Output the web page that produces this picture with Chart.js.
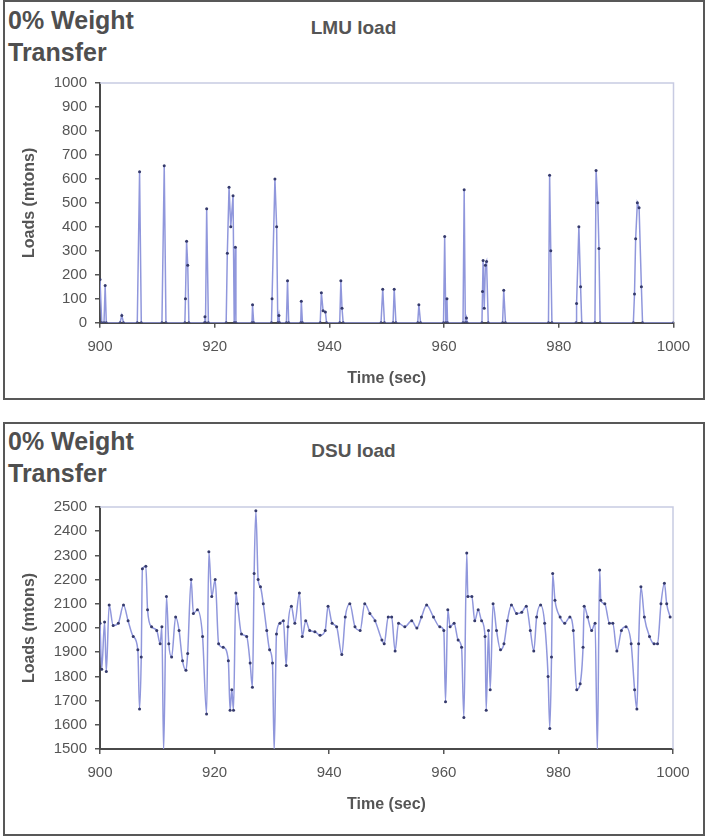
<!DOCTYPE html>
<html>
<head>
<meta charset="utf-8">
<script src="https://cdn.jsdelivr.net/npm/chart.js@4.4.1/dist/chart.umd.min.js"></script>
<style>
  body { margin: 0; width: 707px; height: 836px; background: #fff; position: relative; overflow: hidden; font-family: "Liberation Sans", Arial, sans-serif; }
  .panel { position: absolute; box-sizing: border-box; border: 2px solid #585858; background: #fff; }
  .note { position: absolute; font-weight: bold; font-size: 25px; line-height: 32px; color: #4f4f4f; }
  .ttl { position: absolute; font-weight: bold; font-size: 19px; color: #555; width: 707px; text-align: center; left: 0; }
  canvas { position: absolute; left: 0; }
</style>
</head>
<body>
<div class="panel" style="left:3px; top:0px; width:702px; height:400px;"></div>
<div class="panel" style="left:3px; top:422px; width:702px; height:414px;"></div>

<div class="note" style="left:8px; top:4px;">0% Weight<br>Transfer</div>
<div class="ttl" style="top:17px;">LMU load</div>
<div class="note" style="left:8px; top:425px;">0% Weight<br>Transfer</div>
<div class="ttl" style="top:440px;">DSU load</div>

<canvas id="lmuChart" width="707" height="400" style="top:0;"></canvas>
<canvas id="dsuChart" width="707" height="416" style="top:420px;"></canvas>

<script>
// LMU load, time (sec) and load (mtons)
const lmuTime = [900.0, 900.3, 900.7, 900.9, 901.1, 903.5, 903.8, 904.1, 906.5, 906.9, 907.2, 910.8, 911.2, 911.5,
  914.8, 914.9, 915.1, 915.3, 915.5, 918.2, 918.3, 918.4, 918.6, 918.9, 922.0, 922.2, 922.5, 922.8, 923.2, 923.4,
  923.6, 923.7, 926.5, 926.6, 926.8, 929.9, 930.0, 930.5, 930.8, 931.0, 931.2, 931.3, 932.5, 932.7, 932.9,
  935.0, 935.1, 935.3, 938.4, 938.6, 938.9, 939.3, 939.5, 941.8, 942.0, 942.2, 942.4, 949.0, 949.3, 949.6,
  951.1, 951.3, 951.6, 955.4, 955.6, 955.9, 959.9, 960.1, 960.3, 960.5, 960.6, 963.3, 963.5, 963.7, 963.9, 964.0,
  966.6, 966.7, 966.8, 967.0, 967.2, 967.4, 967.7, 970.2, 970.4, 970.7, 978.2, 978.4, 978.6, 978.8,
  983.0, 983.1, 983.5, 983.8, 984.0, 986.3, 986.5, 986.8, 987.0, 987.2,
  993.0, 993.2, 993.4, 993.7, 994.0, 994.4, 994.6, 1000.0];
const lmuLoad = [180, 0, 0, 155, 0, 0, 30, 0, 0, 630, 0, 0, 655, 0,
  0, 100, 340, 240, 0, 0, 25, 0, 475, 0, 0, 290, 565, 400, 530, 0,
  315, 0, 0, 75, 0, 0, 100, 600, 400, 0, 30, 0, 0, 175, 0,
  0, 90, 0, 0, 125, 50, 45, 0, 0, 175, 60, 0, 0, 140, 0,
  0, 140, 0, 0, 75, 0, 0, 360, 0, 100, 0, 0, 555, 0, 20, 0,
  0, 130, 260, 60, 240, 255, 0, 0, 135, 0, 0, 615, 300, 0,
  0, 80, 400, 150, 0, 0, 635, 500, 310, 0,
  0, 120, 350, 500, 480, 150, 0, 0];

// DSU load, time (sec) and load (mtons)
const dsuTime = [900.0, 900.3, 900.8, 901.1, 901.6, 902.3, 903.2, 904.1, 904.9, 905.8, 906.6, 906.9, 907.2, 907.4,
  908.0, 908.3, 909.0, 909.9, 910.5, 910.8, 911.1, 911.6, 912.0, 912.5, 913.2, 913.8, 914.4, 915.0, 915.3,
  915.9, 916.3, 917.0, 917.9, 918.6, 919.0, 919.5, 920.1, 920.7, 921.5, 922.4, 922.7, 923.0, 923.3, 923.7,
  924.0, 924.7, 925.6, 926.2, 926.6, 926.9, 927.2, 927.6, 928.0, 928.5, 929.1, 929.6, 930.1, 930.4, 930.8,
  931.4, 932.0, 932.5, 932.8, 933.4, 934.0, 934.8, 935.3, 935.9, 936.6, 937.5, 938.4, 939.3, 939.8, 940.5,
  941.3, 942.2, 942.8, 943.6, 944.5, 945.4, 946.2, 947.1, 948.0, 949.2, 949.6, 950.3, 950.9, 951.5, 952.1,
  953.2, 954.4, 955.3, 956.1, 957.0, 958.2, 959.3, 960.0, 960.3, 960.7, 961.1, 961.8, 962.5, 963.1, 963.5,
  964.0, 964.2, 964.9, 965.4, 966.0, 966.6, 967.2, 967.4, 967.8, 968.1, 968.6, 969.2, 969.9, 970.5, 971.1,
  971.8, 972.7, 973.6, 974.4, 975.1, 975.7, 976.2, 976.9, 977.6, 978.2, 978.5, 978.8, 979.0, 979.4, 980.3,
  981.1, 982.0, 982.6, 983.2, 983.8, 984.3, 984.5, 985.1, 985.8, 986.4, 986.8, 987.2, 987.4, 988.1, 988.9,
  989.5, 990.2, 991.0, 991.8, 992.7, 993.3, 993.7, 994.0, 994.4, 995.0, 995.9, 996.7, 997.3, 997.9, 998.5,
  998.9, 999.5];
const dsuLoad = [2020, 1830, 2025, 1820, 2095, 2010, 2020, 2095, 2030, 1965, 1910, 1665, 1880, 2245,
  2255, 2075, 2005, 1990, 1935, 2005, 1490, 2130, 1935, 1880, 2045, 1990, 1865, 1825, 1895,
  2200, 2060, 2075, 1965, 1645, 2315, 2130, 2200, 1935, 1920, 1865, 1660, 1745, 1660, 2145,
  2100, 1975, 1965, 1855, 1755, 2225, 2485, 2200, 2170, 2100, 1990, 1910, 1855, 1490, 1975,
  2020, 2030, 1845, 2005, 2090, 2020, 2145, 1965, 2030, 1990, 1985, 1970, 1990, 2090, 2020,
  2005, 1890, 2045, 2100, 2005, 1990, 2100, 2060, 2030, 1950, 1935, 2045, 2045, 1905, 2020,
  2005, 2030, 2000, 2045, 2095, 2045, 2005, 1990, 1695, 2075, 2005, 2020, 1950, 1920, 1630,
  2310, 2130, 2130, 2030, 2075, 2030, 1965, 1660, 1990, 1745, 2100, 1990, 1910, 1935, 2030,
  2095, 2060, 2065, 2090, 1990, 1905, 2045, 2095, 2020, 1800, 1585, 1880, 2225, 2115, 2045,
  2020, 2045, 1990, 1745, 1770, 1920, 2090, 2045, 1990, 2020, 1490, 2240, 2115, 2100, 2020,
  2020, 1905, 1990, 2005, 1935, 1745, 1665, 1935, 2170, 2045, 1965, 1935, 1935, 2100, 2185,
  2100, 2045];

const xTicks = [900, 920, 940, 960, 980, 1000];

const tickFont = { family: 'Liberation Sans', size: 15 };
const titleFont = { family: 'Liberation Sans', size: 16, weight: 'bold' };
const axisGray = '#555';

// light frame on the top and right sides of the plot area
const plotFrame = {
  id: 'plotFrame',
  beforeDatasetsDraw(chart) {
    const { ctx, chartArea: a } = chart;
    ctx.save();
    ctx.strokeStyle = '#c8cbe2';
    ctx.lineWidth = 1.5;
    ctx.beginPath();
    ctx.moveTo(a.left, a.top);
    ctx.lineTo(a.right, a.top);
    ctx.lineTo(a.right, a.bottom);
    ctx.stroke();
    ctx.restore();
  }
};

function makeChart(id, times, loads, yMin, yMax, pad, xHeight, smooth) {
  return new Chart(document.getElementById(id), {
    type: 'line',
    data: {
      datasets: [{
        data: times.map((t, i) => ({ x: t, y: loads[i] })),
        borderColor: '#9097dc',
        borderWidth: 1.5,
        pointRadius: 1.5,
        pointBorderWidth: 0,
        pointBackgroundColor: '#353a6c',
        cubicInterpolationMode: smooth ? 'monotone' : 'default',
        tension: 0
      }]
    },
    options: {
      responsive: false,
      animation: false,
      layout: { padding: pad },
      plugins: { legend: { display: false }, tooltip: { enabled: false } },
      scales: {
        x: {
          type: 'linear',
          min: 900,
          max: 1000,
          afterBuildTicks: s => { s.ticks = xTicks.map(v => ({ value: v })); },
          afterFit: s => { s.height = xHeight; },
          ticks: { font: tickFont, color: axisGray, padding: 10, maxRotation: 0, callback: v => String(v) },
          grid: { drawOnChartArea: false, color: axisGray, tickLength: 5, lineWidth: 1.5 },
          border: { color: '#4a4a4a', width: 2 },
          title: { display: true, text: 'Time (sec)', font: titleFont, color: axisGray, padding: { top: 0, bottom: 4 } }
        },
        y: {
          min: yMin,
          max: yMax,
          afterFit: s => { s.width = 86; },
          ticks: { stepSize: 100, font: tickFont, color: axisGray, padding: 8, callback: v => String(v) },
          grid: { drawOnChartArea: false, color: axisGray, tickLength: 5, lineWidth: 1.5 },
          border: { color: '#4a4a4a', width: 2 },
          title: { display: true, text: 'Loads (mtons)', font: titleFont, color: axisGray, padding: { top: 6, bottom: 0 } }
        }
      }
    },
    plugins: [plotFrame]
  });
}

makeChart('lmuChart', lmuTime, lmuLoad, 0, 1000, { left: 14, top: 83, right: 33.5, bottom: 7.4 }, 69.9, false);
makeChart('dsuChart', dsuTime, dsuLoad, 1500, 2500, { left: 14, top: 87, right: 34, bottom: 17.4 }, 69.6, true);
</script>
</body>
</html>
